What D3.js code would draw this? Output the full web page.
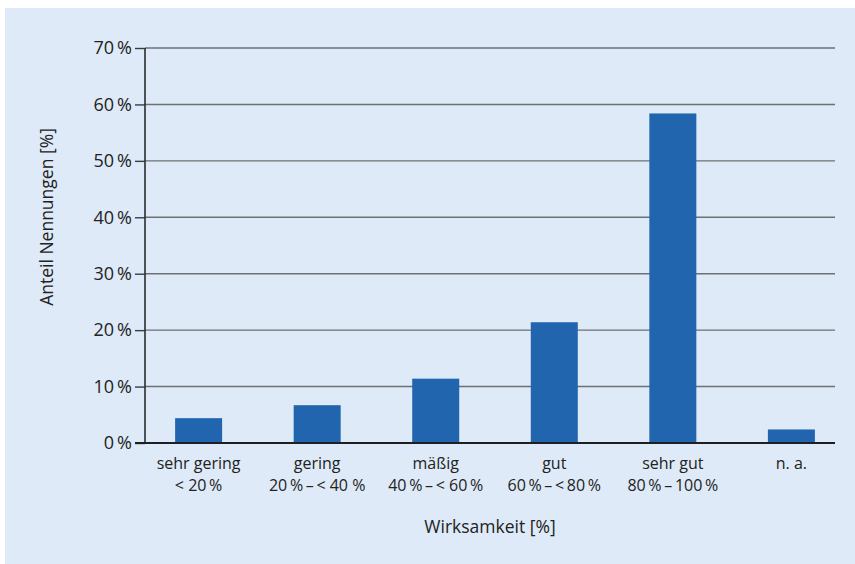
<!DOCTYPE html>
<html>
<head>
<meta charset="utf-8">
<script src="https://cdn.jsdelivr.net/npm/d3@7"></script>
<style>
  body { margin: 0; background: #fff; }
  svg { display: block; font-family: "Open Sans", "Noto Sans", sans-serif; }
</style>
</head>
<body>
<script>
const categories = ['sehr gering', 'gering', 'mäßig', 'gut', 'sehr gut', 'n. a.'];
const subLabels = ['< 20\u2009%', '20\u2009%\u2009–\u2009< 40 %', '40\u2009%\u2009–\u2009< 60\u2009%', '60\u2009%\u2009–\u2009<\u200980\u2009%', '80\u2009%\u2009–\u2009100\u2009%', ''];
const values = [4.4, 6.7, 11.4, 21.4, 58.4, 2.4];
const yTicks = [0, 10, 20, 30, 40, 50, 60, 70];

const width = 855;
const height = 564;
const margin = { top: 48, right: 20, bottom: 121, left: 145 };

const svg = d3
  .select('body')
  .append('svg')
  .attr('width', width)
  .attr('height', height);

svg
  .append('rect')
  .attr('x', 5)
  .attr('y', 8)
  .attr('width', width - 5)
  .attr('height', height - 8)
  .style('fill', '#deeaf7');

const x = d3
  .scalePoint()
  .domain(categories)
  .range([margin.left + 5, width - margin.right + 5])
  .padding(0.41);

const y = d3
  .scaleLinear()
  .domain([0, 70])
  .range([height - margin.bottom, margin.top]);

const barWidth = 47;
const plotRight = 835;

// gridlines
svg
  .append('g')
  .selectAll('line')
  .data(yTicks.filter((d) => d > 0))
  .enter()
  .append('line')
  .attr('x1', margin.left)
  .attr('x2', plotRight)
  .attr('y1', (d) => y(d))
  .attr('y2', (d) => y(d))
  .style('stroke', '#6d7075')
  .style('stroke-width', 1.4);

// bars
svg
  .selectAll('.bar')
  .data(values)
  .enter()
  .append('rect')
  .attr('class', 'bar')
  .attr('x', (d, i) => x(categories[i]) - barWidth / 2)
  .attr('y', (d) => y(d))
  .attr('width', barWidth)
  .attr('height', (d) => y(0) - y(d))
  .style('fill', '#2265af');

// y axis
const yAxis = svg
  .append('g')
  .attr('transform', `translate(${margin.left}, 0)`)
  .call(
    d3.axisLeft(y)
      .tickValues(yTicks)
      .tickSize(10)
      .tickPadding(3)
      .tickFormat((d) => `${d}\u2009%`)
  );
yAxis.select('.domain').remove();
yAxis.selectAll('.tick line').style('stroke', '#3a3c40').style('stroke-width', 1.4);
yAxis
  .selectAll('.tick text')
  .style('font-size', '18px')
  .style('fill', '#222')
  .style('font-family', '"Open Sans", sans-serif');

svg
  .append('line')
  .attr('x1', margin.left)
  .attr('x2', margin.left)
  .attr('y1', y(70))
  .attr('y2', y(0))
  .style('stroke', '#2a2c30')
  .style('stroke-width', 1.6);

svg
  .append('line')
  .attr('x1', margin.left - 10)
  .attr('x2', plotRight)
  .attr('y1', y(0))
  .attr('y2', y(0))
  .style('stroke', '#1e1f22')
  .style('stroke-width', 1.8);

// category labels, two lines
const labelGroup = svg.append('g').style('font-size', '16px').style('fill', '#222');

labelGroup
  .selectAll('.cat')
  .data(categories)
  .enter()
  .append('text')
  .attr('class', 'cat')
  .attr('x', (d) => x(d))
  .attr('y', y(0) + 26)
  .attr('text-anchor', 'middle')
  .text((d) => d);

labelGroup
  .selectAll('.sub')
  .data(subLabels)
  .enter()
  .append('text')
  .attr('class', 'sub')
  .attr('x', (d, i) => x(categories[i]))
  .attr('y', y(0) + 48)
  .attr('text-anchor', 'middle')
  .text((d) => d);

svg
  .append('text')
  .attr('x', 490)
  .attr('y', 533)
  .attr('text-anchor', 'middle')
  .style('font-size', '17.5px')
  .style('fill', '#222')
  .text('Wirksamkeit [%]');

svg
  .append('text')
  .attr('transform', `translate(53, 217) rotate(-90)`)
  .attr('text-anchor', 'middle')
  .style('font-size', '17.5px')
  .style('fill', '#222')
  .text('Anteil Nennungen [%]');
</script>
</body>
</html>
